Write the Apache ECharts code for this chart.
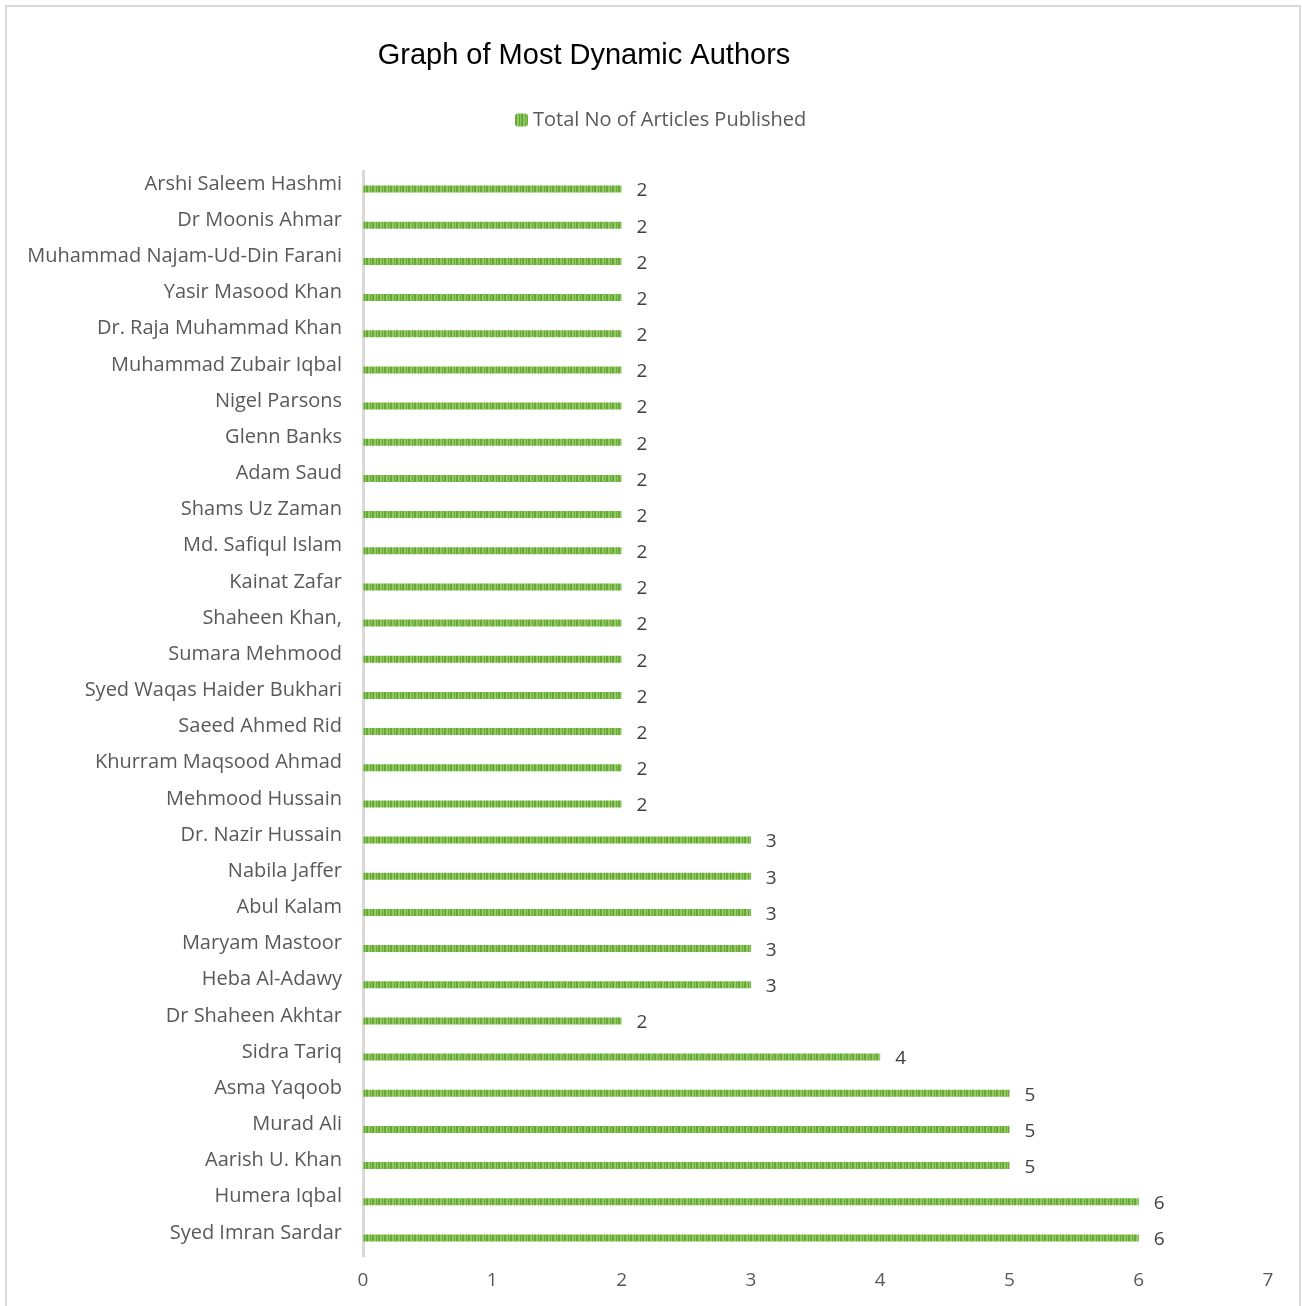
<!DOCTYPE html>
<html>
<head>
<meta charset="utf-8">
<script src="https://cdn.jsdelivr.net/npm/echarts@6/dist/echarts.min.js"></script>
<style>
html,body{margin:0;padding:0;background:#fff;}
#authorsChart{width:1302px;height:1306px;}
</style>
</head>
<body>
<div id="authorsChart"></div>
<script>
// categories listed bottom to top (category axis starts at bottom)
var authorNames = [
	'Syed Imran Sardar', 'Humera Iqbal', 'Aarish U. Khan', 'Murad Ali', 'Asma Yaqoob',
	'Sidra Tariq', 'Dr Shaheen Akhtar', 'Heba Al-Adawy', 'Maryam Mastoor', 'Abul Kalam',
	'Nabila Jaffer', 'Dr. Nazir Hussain', 'Mehmood Hussain', 'Khurram Maqsood Ahmad', 'Saeed Ahmed Rid',
	'Syed Waqas Haider Bukhari', 'Sumara Mehmood', 'Shaheen Khan,', 'Kainat Zafar', 'Md. Safiqul Islam',
	'Shams Uz Zaman', 'Adam Saud', 'Glenn Banks', 'Nigel Parsons', 'Muhammad Zubair Iqbal',
	'Dr. Raja Muhammad Khan', 'Yasir Masood Khan', 'Muhammad Najam-Ud-Din Farani', 'Dr Moonis Ahmar', 'Arshi Saleem Hashmi'
];
var articleCounts = [
	6, 6, 5, 5, 5,
	4, 2, 3, 3, 3,
	3, 3, 2, 2, 2,
	2, 2, 2, 2, 2,
	2, 2, 2, 2, 2,
	2, 2, 2, 2, 2
];
var xTicks = [0, 1, 2, 3, 4, 5, 6, 7];

//条纹填充
function stripePattern(){
	var c = document.createElement('canvas');
	c.width = 6; c.height = 6;
	var ctx = c.getContext('2d');
	ctx.fillStyle = '#92cc60';
	ctx.fillRect(0, 0, 6, 6);
	ctx.fillStyle = '#68a83a';
	ctx.fillRect(0, 0, 2, 6);
	ctx.fillRect(4, 0, 1, 6);
	return {image: c, repeat: 'repeat'};
}
var stripe = stripePattern();

var chart = echarts.init(document.getElementById('authorsChart'));
var option = {
	backgroundColor: '#ffffff',
	animation: false,
	graphic: [{
		type: 'rect',
		shape: {x: 6, y: 6, width: 1294, height: 1310},
		style: {fill: 'none', stroke: '#d9d9d9', lineWidth: 2}
	}],
	title: {
		text: 'Graph of Most Dynamic Authors',
		left: 579,
		top: 36,
		textAlign: 'center',
		textStyle: {fontFamily: 'Liberation Sans', fontSize: 29, fontWeight: 'normal', color: '#000000'}
	},
	legend: {
		data: ['Total No of Articles Published'],
		left: 510,
		top: 105,
		itemWidth: 13,
		itemHeight: 13,
		itemGap: 6,
		textStyle: {fontFamily: 'Open Sans', fontSize: 20, color: '#595959'}
	},
	grid: {
		left: 363,
		right: 34,
		top: 171,
		bottom: 50,
		containLabel: false
	},
	xAxis: {
		type: 'value',
		min: 0,
		max: 7,
		interval: 1,
		axisLine: {show: false},
		axisTick: {show: false},
		splitLine: {show: false},
		axisLabel: {
			margin: 15,
			fontFamily: 'Open Sans',
			fontSize: 19,
			color: '#595959',
			formatter: function (v) { return xTicks.indexOf(v) >= 0 ? String(v) : ''; }
		}
	},
	yAxis: {
		type: 'category',
		data: authorNames,
		axisLine: {show: true, lineStyle: {color: '#d9d9d9', width: 3}},
		axisTick: {show: false},
		axisLabel: {
			margin: 21,
			fontFamily: 'Open Sans',
			fontSize: 20,
			color: '#595959',
			verticalAlign: 'bottom',
			lineHeight: 20,
			padding: [0, 0, -5, 0]
		}
	},
	series: [{
		name: 'Total No of Articles Published',
		type: 'bar',
		data: articleCounts,
		barWidth: 7,
		itemStyle: {color: stripe},
		label: {
			show: true,
			position: 'right',
			distance: 15,
			offset: [0, 2],
			fontFamily: 'Open Sans',
			fontSize: 19,
			color: '#404040'
		}
	}]
};
chart.setOption(option);

window.onresize = function(){
	chart.resize();
};
</script>
</body>
</html>
